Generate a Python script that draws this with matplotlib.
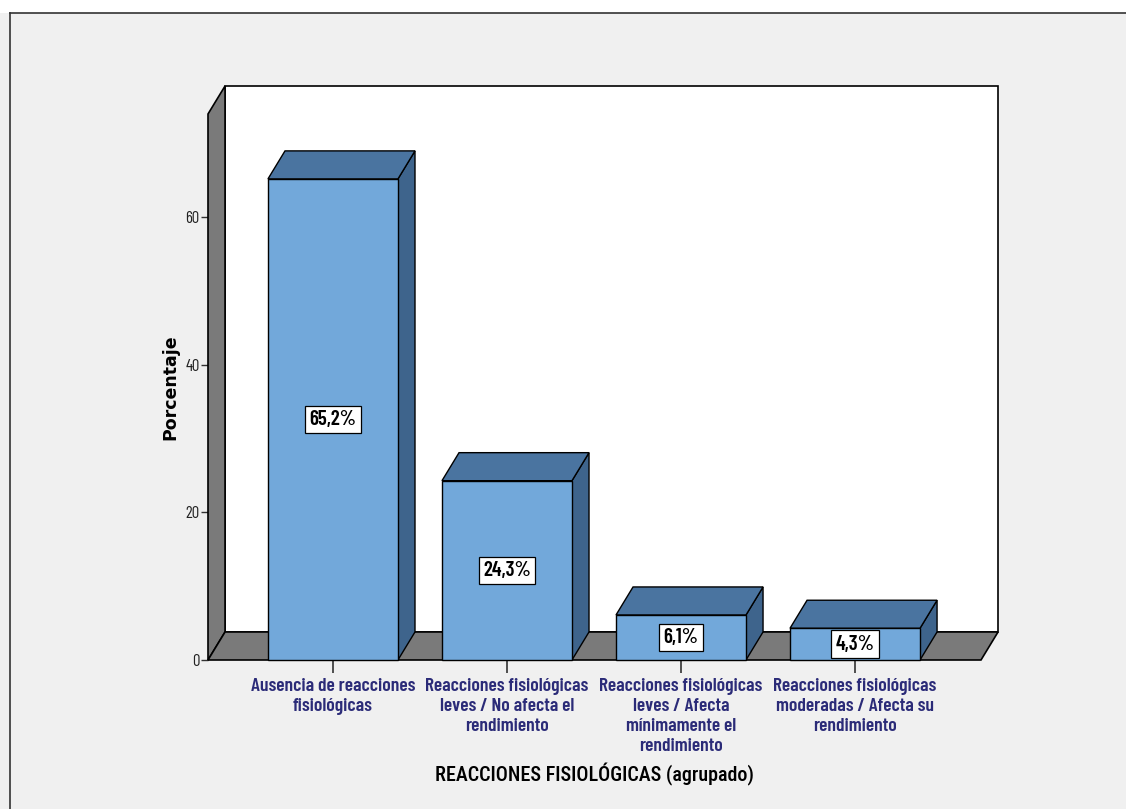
import numpy as np
import matplotlib
matplotlib.use("Agg")
import matplotlib.pyplot as plt
from matplotlib.patches import Polygon, Rectangle
from matplotlib.lines import Line2D

# data
categories = [
    "Ausencia de reacciones\nfisiológicas",
    "Reacciones fisiológicas\nleves / No afecta el\nrendimiento",
    "Reacciones fisiológicas\nleves / Afecta\nmínimamente el\nrendimiento",
    "Reacciones fisiológicas\nmoderadas / Afecta su\nrendimiento",
]
values = [65.2, 24.3, 6.1, 4.3]
value_labels = ["65,2%", "24,3%", "6,1%", "4,3%"]
yticks = [0, 20, 40, 60]

NARROW = ["Barlow Condensed", "DejaVu Sans"]
XLAB = ["Roboto Condensed", "DejaVu Sans"]

# style
front_col = "#72a8da"
top_col = "#4a74a0"
side_col = "#3e648c"
wall_col = "#7a7a7a"
navy = "#2b2b78"

x0, x1 = -0.718, 3.724      # front plane limits (category units)
ytop = 74.0
ddx, ddy = 0.098, 3.8        # depth offset in data units
bw = 0.747

fig = plt.figure(figsize=(11.26, 8.09), dpi=100)
fig.patch.set_facecolor("#f0f0f0")
# outer frame lines
fig.add_artist(Rectangle((0, 0.984), 1, 0.016, transform=fig.transFigure,
                         facecolor="white", edgecolor="none"))
fig.add_artist(Line2D([10 / 1126, 1], [1 - 13 / 809] * 2, transform=fig.transFigure,
                      color="#333333", lw=1.2))
fig.add_artist(Line2D([10 / 1126] * 2, [0, 1 - 13 / 809], transform=fig.transFigure,
                      color="#333333", lw=1.2))

ax = fig.add_axes([208 / 1126, 149 / 809, 773 / 1126, 546 / 809])
ax.set_xlim(x0, x1)
ax.set_ylim(0, ytop)
ax.patch.set_visible(False)
for s in ax.spines.values():
    s.set_visible(False)

# back wall
ax.add_patch(Rectangle((x0 + ddx, ddy), x1 - x0, ytop, facecolor="white",
                       edgecolor="black", lw=1.2, clip_on=False, zorder=1))
# left side wall
ax.add_patch(Polygon([(x0, 0), (x0, ytop), (x0 + ddx, ytop + ddy), (x0 + ddx, ddy)],
                     closed=True, facecolor=wall_col, edgecolor="black", lw=1.2,
                     clip_on=False, zorder=2))
# floor
ax.add_patch(Polygon([(x0, 0), (x1, 0), (x1 + ddx, ddy), (x0 + ddx, ddy)],
                     closed=True, facecolor=wall_col, edgecolor="black", lw=1.2,
                     clip_on=False, zorder=2))

xs = np.arange(len(values))
for i, (x, v) in enumerate(zip(xs, values)):
    l, r = x - bw / 2, x + bw / 2
    z = 3 + i * 0.1
    ax.add_patch(Polygon([(r, 0), (r, v), (r + ddx, v + ddy), (r + ddx, ddy)],
                         closed=True, facecolor=side_col, edgecolor="black",
                         lw=1.0, clip_on=False, zorder=z))
    ax.add_patch(Polygon([(l, v), (r, v), (r + ddx, v + ddy), (l + ddx, v + ddy)],
                         closed=True, facecolor=top_col, edgecolor="black",
                         lw=1.0, clip_on=False, zorder=z))
    ax.add_patch(Rectangle((l, 0), bw, v, facecolor=front_col, edgecolor="black",
                           lw=1.0, clip_on=False, zorder=z + 0.01))
    ax.text(x, v / 2, value_labels[i], ha="center", va="center", fontsize=15,
            fontweight="semibold", family=NARROW, color="black", zorder=6,
            bbox=dict(boxstyle="square,pad=0.2", facecolor="white",
                      edgecolor="black", lw=0.9))

ax.set_xticks(xs)
ax.set_xticklabels(categories, fontsize=14, fontweight="semibold", family=NARROW,
                   color=navy, linespacing=1.22)
ax.tick_params(axis="x", length=9, width=1.2, color="#333333", pad=4)
ax.set_yticks(yticks)
ax.set_yticklabels([str(t) for t in yticks], fontsize=12, family=NARROW,
                   color="#222222")
ax.tick_params(axis="y", length=5, width=1.0, color="#333333", pad=1)

ax.set_ylabel("Porcentaje", fontsize=12.5, fontweight="bold", family="DejaVu Sans",
              labelpad=4)
ax.set_xlabel("REACCIONES FISIOLÓGICAS (agrupado)", fontsize=14.5,
              fontweight="medium", family=XLAB, labelpad=6)

fig.savefig("out.png", dpi=100, facecolor=fig.get_facecolor())
